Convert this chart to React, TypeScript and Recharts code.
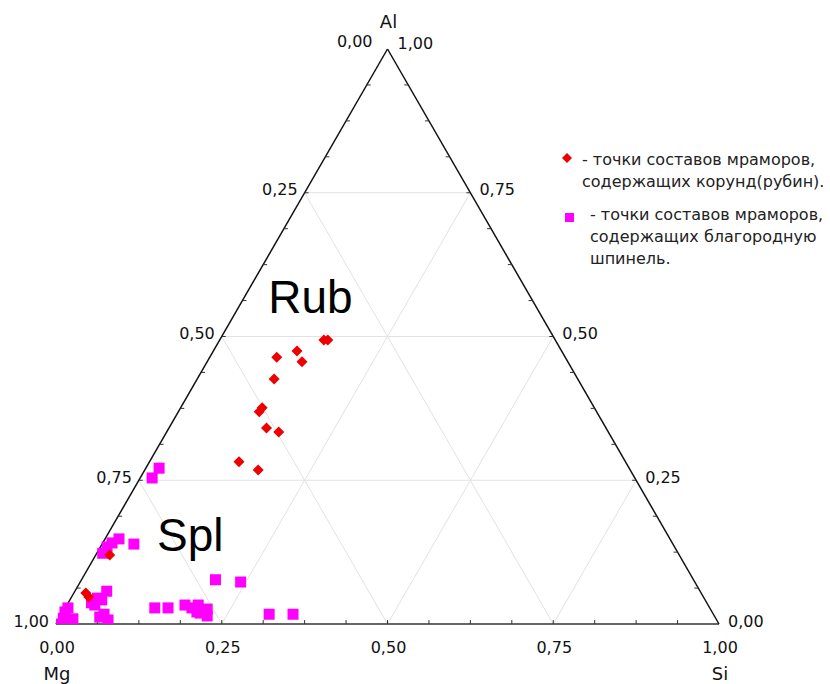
import React from 'react';
import { ScatterChart, Scatter, XAxis, YAxis, ReferenceLine, ReferenceDot } from 'recharts';

const S3 = Math.sqrt(3) / 2;

// Ternary compositions (fractions of Al and Si; Mg = 1 - Al - Si)
const rubAl = [0.494, 0.494, 0.475, 0.464, 0.456, 0.426, 0.376, 0.369, 0.341, 0.334, 0.282, 0.268, 0.120, 0.054, 0.047];
const rubSi = [0.157, 0.163, 0.126, 0.101, 0.143, 0.116, 0.123, 0.122, 0.147, 0.169, 0.135, 0.171, 0.021, 0.018, 0.026];

const splAl = [0.271, 0.254, 0.148, 0.141, 0.134, 0.123, 0.139, 0.057, 0.045, 0.037, 0.033, 0.042, 0.012, 0.007, 0.017, 0.000, 0.010, 0.028, 0.009, 0.021, 0.077, 0.073, 0.028, 0.028, 0.033, 0.028, 0.033, 0.021, 0.026, 0.014, 0.019, 0.017, 0.017];
const splSi = [0.020, 0.018, 0.021, 0.014, 0.010, 0.009, 0.048, 0.048, 0.040, 0.035, 0.042, 0.048, 0.060, 0.075, 0.064, 0.003, 0.006, 0.004, 0.021, 0.003, 0.202, 0.242, 0.135, 0.155, 0.178, 0.191, 0.198, 0.202, 0.215, 0.221, 0.208, 0.313, 0.349];

const gridLevels = [0.25, 0.5, 0.75];
const minorTicks = [0.0625, 0.125, 0.1875, 0.25, 0.3125, 0.375, 0.4375, 0.5, 0.5625, 0.625, 0.6875, 0.75, 0.8125, 0.875, 0.9375];
const tickValues = [0, 0.25, 0.5, 0.75, 1];
const tickLabels = ['0,00', '0,25', '0,50', '0,75', '1,00'];
const vertexNames = { top: 'Al', left: 'Mg', right: 'Si' };
const fieldLabels = [
  { text: 'Rub', al: 0.569, si: 0.0355 },
  { text: 'Spl', al: 0.155, si: 0.075 },
];
const legendItems = [
  { shape: 'diamond', color: '#ee0000', lines: ['- точки составов мраморов,', 'содержащих корунд(рубин).'] },
  { shape: 'square', color: '#ff00ff', lines: ['- точки составов мраморов,', 'содержащих благородную', 'шпинель.'] },
];

const toXY = (al: number, si: number) => ({ x: si + al / 2, y: al * S3 });

const rubData = rubAl.map((a, i) => toXY(a, rubSi[i]));
const splData = splAl.map((a, i) => toXY(a, splSi[i]));

const TICK_FONT = "'DejaVu Sans', Verdana, sans-serif";
const BIG_FONT = "'Liberation Sans', Arial, sans-serif";

const Txt = (props: any) => {
  const { viewBox, txt, ox = 0, oy = 0, anchor = 'middle', fsize = 16, ffam = TICK_FONT, tcolor = '#111' } = props;
  if (!viewBox) return null;
  return (
    <text
      x={viewBox.x + ox}
      y={viewBox.y + oy}
      textAnchor={anchor}
      dominantBaseline="central"
      fontSize={fsize}
      fontFamily={ffam}
      fill={tcolor}
    >
      {txt}
    </text>
  );
};

const Square = (props: any) => {
  const { cx, cy } = props;
  return <rect x={cx - 5.5} y={cy - 5.5} width={11} height={11} fill="#ff00ff" />;
};

const Diamond = (props: any) => {
  const { cx, cy } = props;
  const h = 5.5;
  return <polygon points={`${cx},${cy - h} ${cx + h},${cy} ${cx},${cy + h} ${cx - h},${cy}`} fill="#ee0000" />;
};

const seg = (a1: number, s1: number, a2: number, s2: number) => [toXY(a1, s1), toXY(a2, s2)];

export default function App() {
  const gridLines: any[] = [];
  gridLevels.forEach((v) => {
    gridLines.push(seg(v, 0, v, 1 - v)); // constant Al
    gridLines.push(seg(0, v, 1 - v, v)); // constant Si
    gridLines.push(seg(0, 1 - v, 1 - v, 0)); // constant Mg
  });
  const TL = 0.006;
  const tickSegs: any[] = [];
  minorTicks.forEach((t) => {
    tickSegs.push([{ x: t, y: 0 }, { x: t, y: TL }]);
    const l = toXY(t, 0);
    tickSegs.push([l, { x: l.x + TL, y: l.y }]);
    const r = toXY(t, 1 - t);
    tickSegs.push([r, { x: r.x - TL, y: r.y }]);
  });

  return (
    <div style={{ position: 'absolute', left: 0, top: 0, width: 830, height: 684, background: '#fff' }}>
      <ScatterChart width={830} height={684} margin={{ top: 49, right: 111, bottom: 60, left: 56 }}>
        <XAxis type="number" dataKey="x" domain={[0, 1]} allowDataOverflow hide />
        <YAxis type="number" dataKey="y" domain={[0, S3]} allowDataOverflow hide />
        {gridLines.map((s, i) => (
          <ReferenceLine key={'g' + i} segment={s} stroke="#e2e2e2" strokeWidth={1} ifOverflow="visible" />
        ))}
        <ReferenceLine segment={seg(0, 0, 0, 1)} stroke="#666" strokeWidth={2} ifOverflow="visible" />
        <ReferenceLine segment={seg(0, 0, 1, 0)} stroke="#111" strokeWidth={1.5} ifOverflow="visible" />
        <ReferenceLine segment={seg(0, 1, 1, 0)} stroke="#111" strokeWidth={1.5} ifOverflow="visible" />
        {tickSegs.map((s, i) => (
          <ReferenceLine key={'t' + i} segment={s} stroke="#333" strokeWidth={1} ifOverflow="visible" />
        ))}
        {tickValues.map((t, i) => {
          const al = 1 - t;
          const p = toXY(al, 0);
          const top = al === 1;
          return (
            <ReferenceDot key={'l' + i} x={p.x} y={p.y} r={0} stroke="none" fill="none" ifOverflow="visible"
              label={<Txt txt={tickLabels[i]} anchor="end" ox={top ? -15 : -7} oy={top ? -8 : -3} />} />
          );
        })}
        {tickValues.map((t, i) => {
          const p = toXY(t, 1 - t);
          const top = t === 1;
          return (
            <ReferenceDot key={'r' + i} x={p.x} y={p.y} r={0} stroke="none" fill="none" ifOverflow="visible"
              label={<Txt txt={tickLabels[i]} anchor="start" ox={top ? 10 : 9} oy={top ? -6 : -3} />} />
          );
        })}
        {tickValues.map((t, i) => {
          const p = toXY(0, t);
          return (
            <ReferenceDot key={'b' + i} x={p.x} y={p.y} r={0} stroke="none" fill="none" ifOverflow="visible"
              label={<Txt txt={tickLabels[i]} anchor="middle" ox={1} oy={23} />} />
          );
        })}
        <ReferenceDot x={0.5} y={S3} r={0} stroke="none" fill="none" ifOverflow="visible"
          label={<Txt txt={vertexNames.top} fsize={18} ox={1} oy={-28} />} />
        <ReferenceDot x={0} y={0} r={0} stroke="none" fill="none" ifOverflow="visible"
          label={<Txt txt={vertexNames.left} fsize={18} ox={1} oy={49} />} />
        <ReferenceDot x={1} y={0} r={0} stroke="none" fill="none" ifOverflow="visible"
          label={<Txt txt={vertexNames.right} fsize={18} ox={1} oy={49} />} />
        {fieldLabels.map((f, i) => {
          const p = toXY(f.al, f.si);
          return (
            <ReferenceDot key={'f' + i} x={p.x} y={p.y} r={0} stroke="none" fill="none" ifOverflow="visible"
              label={<Txt txt={f.text} fsize={46} ffam={BIG_FONT} tcolor="#000" anchor="start" />} />
          );
        })}
        <Scatter data={splData} shape={<Square />} isAnimationActive={false} />
        <Scatter data={rubData} shape={<Diamond />} isAnimationActive={false} />
      </ScatterChart>
      {legendItems.map((item, k) => {
        const top = k === 0 ? 149 : 204;
        return (
          <div key={k}>
            <svg style={{ position: 'absolute', left: k === 0 ? 561 : 564, top: k === 0 ? 152 : 212 }} width={12} height={12}>
              {item.shape === 'diamond' ? (
                <polygon points="6,1 11,6 6,11 1,6" fill={item.color} />
              ) : (
                <rect x={1} y={1} width={9} height={9} fill={item.color} />
              )}
            </svg>
            <div style={{ position: 'absolute', left: 590, top, fontFamily: "'DejaVu Sans', Verdana, sans-serif", fontSize: 16, lineHeight: '22px', color: '#222', whiteSpace: 'nowrap', textIndent: k === 0 ? -8 : 0 }}>
              {item.lines.map((ln, j) => (
                <div key={j}>{ln}</div>
              ))}
            </div>
          </div>
        );
      })}
    </div>
  );
}
